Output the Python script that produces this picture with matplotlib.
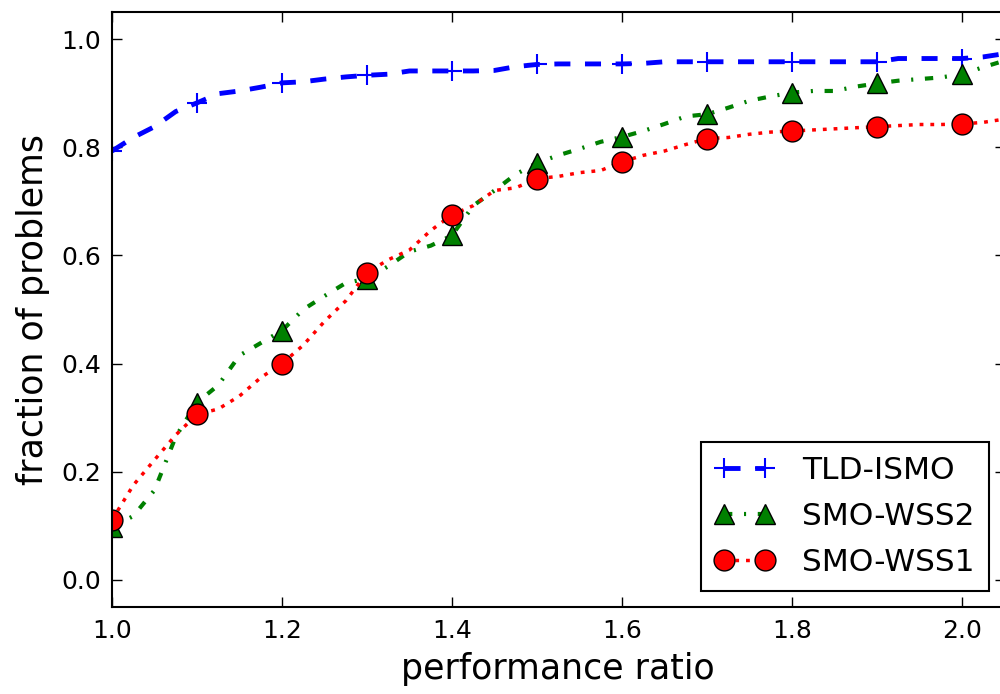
import matplotlib
matplotlib.use('Agg')
import matplotlib.pyplot as plt
import numpy as np

# performance ratio grid (markers every 0.1)
ratio = [1.000, 1.025, 1.050, 1.075, 1.100, 1.125, 1.150, 1.175, 1.200, 1.225,
         1.250, 1.275, 1.300, 1.325, 1.350, 1.375, 1.400, 1.425, 1.450, 1.475,
         1.500, 1.525, 1.550, 1.575, 1.600, 1.625, 1.650, 1.675, 1.700, 1.725,
         1.750, 1.775, 1.800, 1.825, 1.850, 1.875, 1.900, 1.925, 1.950, 1.975,
         2.000, 2.025, 2.050]

tld_ismo = [0.793, 0.818, 0.838, 0.866, 0.882, 0.899, 0.904, 0.911, 0.919, 0.921,
            0.926, 0.930, 0.933, 0.935, 0.941, 0.941, 0.941, 0.941, 0.942, 0.949,
            0.953, 0.954, 0.954, 0.954, 0.954, 0.955, 0.958, 0.958, 0.958, 0.958,
            0.958, 0.958, 0.958, 0.958, 0.958, 0.958, 0.958, 0.964, 0.964, 0.964,
            0.964, 0.967, 0.973]

smo_wss2 = [0.098, 0.118, 0.166, 0.265, 0.328, 0.360, 0.415, 0.438, 0.461, 0.500,
            0.525, 0.549, 0.557, 0.580, 0.607, 0.618, 0.637, 0.692, 0.720, 0.750,
            0.771, 0.785, 0.797, 0.810, 0.819, 0.830, 0.843, 0.857, 0.861, 0.873,
            0.886, 0.894, 0.901, 0.904, 0.904, 0.912, 0.918, 0.923, 0.926, 0.929,
            0.935, 0.948, 0.960]

smo_wss1 = [0.111, 0.175, 0.222, 0.268, 0.306, 0.316, 0.340, 0.374, 0.400, 0.434,
            0.478, 0.516, 0.568, 0.592, 0.610, 0.646, 0.675, 0.692, 0.720, 0.725,
            0.742, 0.746, 0.753, 0.757, 0.773, 0.785, 0.793, 0.805, 0.816, 0.818,
            0.824, 0.828, 0.830, 0.832, 0.834, 0.836, 0.838, 0.840, 0.842, 0.842,
            0.843, 0.846, 0.852]

fig = plt.figure(figsize=(10, 6.94), dpi=100)
ax = fig.add_axes([0.112, 0.1254, 0.8925, 0.8573])

ax.plot(ratio, tld_ismo, color='blue', lw=3.5, dashes=(3.3, 3.0),
        marker='+', ms=15, mew=1.5, markevery=4, label='TLD-ISMO')
ax.plot(ratio, smo_wss2, color='green', lw=3, dashes=(2.0, 2.8, 0.5, 2.8),
        marker='^', ms=15, mec='black', mew=1, markevery=4, label='SMO-WSS2')
ax.plot(ratio, smo_wss1, color='red', lw=2.5, dashes=(1.1, 2.0),
        marker='o', ms=15, mec='black', mew=1, markevery=4, label='SMO-WSS1')

ax.set_xlim(1.0, 2.05)
ax.set_ylim(-0.05, 1.05)
ax.set_xticks(np.arange(1.0, 2.01, 0.2))
ax.set_yticks(np.arange(0.0, 1.01, 0.2))
ax.tick_params(direction='in', length=7, width=1, labelsize=18, top=True, right=True)
ax.tick_params(axis='x', pad=9)
ax.tick_params(axis='y', pad=8)
for s in ax.spines.values():
    s.set_linewidth(1.5)

ax.set_xlabel('performance ratio', fontsize=25, labelpad=6)
ax.set_ylabel('fraction of problems', fontsize=25, labelpad=8)

leg = ax.legend(loc='lower right', fontsize=22.5, numpoints=2, handlelength=1.9,
                handletextpad=0.9, labelspacing=0.55, borderpad=0.45,
                fancybox=False, framealpha=1)
leg.get_frame().set_edgecolor('black')
leg.get_frame().set_linewidth(1.5)

fig.savefig('out.png', dpi=100)
